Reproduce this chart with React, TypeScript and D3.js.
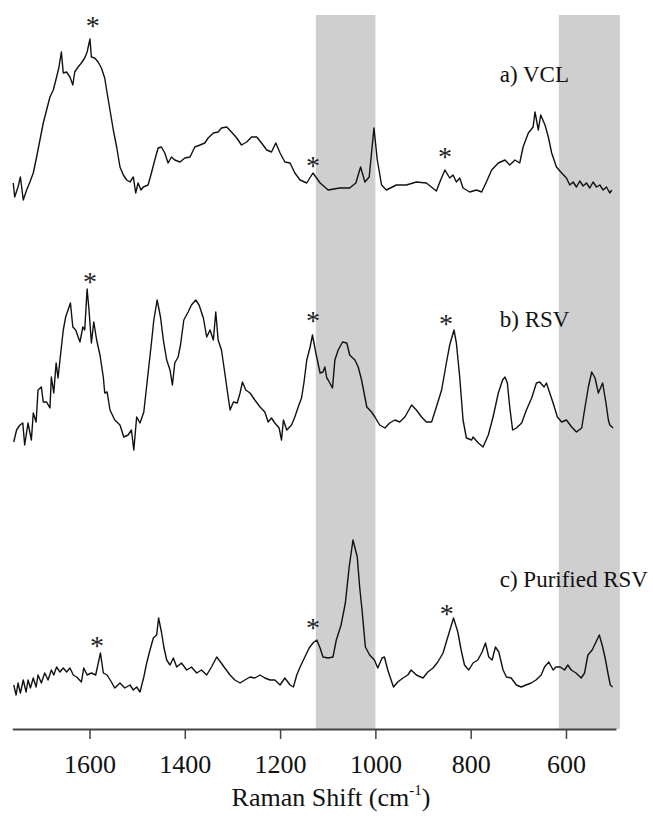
import * as d3 from "d3";
import { useEffect, useRef } from "react";

// Raman spectra: [wavenumber cm-1, intensity (a.u.)]
const vcl: [number, number][] = [
  [1760, 16], [1757, 2], [1750, 12], [1745, 22], [1739, -1], [1732, 9], [1725, 17], [1718, 26],
  [1711, 42], [1704, 59], [1697, 76], [1690, 89], [1683, 102], [1676, 109], [1669, 122], [1664, 132],
  [1659, 147], [1655, 126], [1648, 127], [1641, 122], [1635, 114], [1631, 127], [1624, 132], [1617, 136],
  [1610, 141], [1605, 147], [1599, 160], [1596, 142], [1589, 141], [1582, 137], [1575, 131], [1568, 121],
  [1563, 106], [1557, 89], [1550, 69], [1543, 52], [1536, 32], [1529, 24], [1522, 19], [1515, 17],
  [1508, 22], [1503, 6], [1498, 16], [1492, 9], [1487, 12], [1477, 14], [1470, 26], [1463, 39],
  [1456, 51], [1449, 52], [1442, 46], [1435, 36], [1428, 42], [1421, 39], [1410, 37], [1400, 41],
  [1389, 42], [1379, 52], [1368, 54], [1358, 56], [1351, 61], [1340, 66], [1330, 67], [1323, 71],
  [1312, 72], [1302, 67], [1291, 61], [1281, 54], [1270, 57], [1260, 62], [1249, 62], [1239, 56],
  [1228, 49], [1218, 47], [1209, 56], [1200, 46], [1190, 37], [1179, 36], [1169, 26], [1158, 19],
  [1144, 16], [1131, 26], [1116, 16], [1099, 9], [1075, 11], [1054, 11], [1041, 16], [1031, 32],
  [1022, 17], [1013, 22], [1003, 71], [996, 39], [987, 14], [977, 9], [956, 14], [935, 14],
  [914, 17], [893, 16], [872, 8], [863, 19], [854, 29], [844, 21], [837, 24], [830, 17],
  [823, 21], [816, 11], [802, 7], [788, 9], [777, 7], [767, 17], [756, 29], [742, 36],
  [728, 39], [718, 34], [707, 39], [697, 36], [690, 52], [679, 66], [669, 72], [665, 87],
  [658, 69], [653, 84], [644, 74], [637, 62], [630, 46], [620, 32], [609, 26], [599, 21],
  [592, 14], [585, 17], [578, 12], [571, 18], [564, 13], [557, 16], [550, 11], [543, 17],
  [536, 12], [529, 14], [522, 9], [515, 12], [508, 6], [504, 9],
];

const rsv: [number, number][] = [
  [1759, 7], [1753, 19], [1746, 24], [1740, 26], [1736, 4], [1729, 26], [1722, 9], [1718, 36],
  [1712, 27], [1708, 59], [1701, 62], [1697, 47], [1690, 47], [1683, 41], [1680, 72], [1675, 56],
  [1670, 86], [1666, 71], [1659, 102], [1655, 119], [1650, 132], [1645, 139], [1640, 146], [1635, 122],
  [1629, 119], [1620, 107], [1614, 122], [1610, 119], [1605, 160], [1601, 139], [1596, 106], [1591, 127],
  [1585, 109], [1578, 94], [1571, 72], [1568, 56], [1563, 57], [1557, 39], [1547, 29], [1536, 24],
  [1528, 12], [1519, 14], [1512, 19], [1507, -1], [1501, 32], [1494, 26], [1486, 37], [1477, 76],
  [1470, 106], [1465, 129], [1458, 149], [1451, 132], [1445, 109], [1438, 89], [1431, 79], [1426, 64],
  [1421, 86], [1414, 92], [1409, 104], [1402, 129], [1393, 137], [1386, 144], [1377, 149], [1370, 144],
  [1361, 131], [1354, 112], [1347, 119], [1340, 109], [1335, 137], [1330, 109], [1323, 99], [1316, 76],
  [1311, 59], [1305, 39], [1298, 47], [1290, 46], [1284, 56], [1279, 67], [1272, 59], [1263, 56],
  [1253, 49], [1242, 42], [1232, 37], [1225, 27], [1218, 31], [1211, 26], [1202, 21], [1197, 9],
  [1193, 29], [1186, 19], [1176, 24], [1169, 32], [1162, 42], [1155, 51], [1150, 66], [1144, 89],
  [1137, 102], [1132, 114], [1125, 96], [1116, 76], [1110, 77], [1106, 82], [1102, 71], [1099, 69],
  [1090, 61], [1085, 89], [1078, 99], [1069, 107], [1060, 106], [1054, 94], [1043, 89], [1036, 82],
  [1029, 69], [1018, 42], [1008, 37], [1001, 32], [991, 24], [980, 21], [970, 26], [959, 29],
  [949, 27], [938, 32], [924, 44], [914, 39], [903, 32], [893, 27], [882, 27], [872, 42],
  [861, 59], [851, 86], [844, 104], [835, 119], [830, 106], [823, 72], [816, 29], [809, 11],
  [798, 9], [795, 12], [784, 6], [774, 2], [763, 14], [753, 32], [742, 56], [733, 69],
  [728, 72], [723, 66], [718, 42], [712, 19], [704, 21], [693, 26], [683, 39], [672, 51],
  [662, 66], [655, 67], [646, 62], [641, 66], [634, 56], [627, 46], [618, 32], [609, 27],
  [599, 29], [588, 22], [578, 17], [567, 21], [560, 42], [553, 62], [546, 77], [539, 71],
  [532, 56], [523, 66], [516, 46], [511, 29], [508, 24], [501, 21],
];

const purified: [number, number][] = [
  [1759, 14], [1754, 4], [1750, 16], [1745, 6], [1739, 19], [1733, 7], [1729, 19], [1724, 11],
  [1718, 21], [1712, 12], [1708, 24], [1701, 16], [1694, 26], [1687, 19], [1680, 29], [1675, 24],
  [1669, 32], [1662, 27], [1655, 31], [1648, 27], [1641, 31], [1634, 24], [1627, 22], [1617, 17],
  [1612, 31], [1605, 24], [1596, 26], [1587, 24], [1577, 46], [1571, 26], [1563, 24], [1554, 17],
  [1547, 11], [1536, 16], [1526, 11], [1515, 14], [1508, 9], [1501, 12], [1494, 7], [1486, 22],
  [1480, 36], [1473, 49], [1466, 61], [1459, 64], [1455, 81], [1449, 67], [1444, 52], [1438, 39],
  [1431, 34], [1424, 41], [1417, 32], [1407, 36], [1396, 29], [1386, 32], [1375, 26], [1365, 29],
  [1354, 24], [1344, 32], [1333, 42], [1325, 37], [1316, 31], [1305, 24], [1295, 19], [1284, 16],
  [1274, 19], [1263, 22], [1253, 21], [1242, 24], [1232, 21], [1221, 19], [1211, 19], [1200, 14],
  [1190, 21], [1179, 14], [1172, 12], [1165, 24], [1158, 32], [1148, 42], [1139, 51], [1131, 56],
  [1123, 59], [1116, 51], [1110, 42], [1099, 41], [1089, 42], [1082, 59], [1072, 74], [1063, 96],
  [1055, 132], [1047, 159], [1038, 142], [1033, 112], [1028, 89], [1021, 52], [1012, 44], [1002, 39],
  [995, 31], [986, 41], [981, 42], [974, 29], [967, 19], [962, 12], [953, 17], [942, 21],
  [932, 24], [925, 29], [914, 24], [900, 21], [890, 27], [879, 31], [869, 37], [858, 46],
  [848, 62], [836, 81], [827, 67], [820, 49], [813, 34], [804, 29], [795, 36], [785, 39],
  [776, 47], [769, 56], [762, 42], [755, 39], [748, 52], [741, 47], [732, 29], [725, 22],
  [715, 21], [704, 14], [694, 12], [684, 14], [673, 16], [663, 19], [652, 24], [645, 32],
  [636, 37], [627, 29], [621, 32], [612, 32], [603, 29], [596, 34], [589, 29], [579, 26],
  [568, 21], [561, 26], [554, 44], [545, 49], [537, 57], [530, 64], [523, 52], [517, 39],
  [512, 26], [507, 14], [502, 12],
];

// asterisk marks [wavenumber, intensity level]
const starsVcl: [number, number][] = [[1593, 177], [1131, 37], [854, 46]];
const starsRsv: [number, number][] = [[1599, 171], [1131, 132], [852, 129]];
const starsPurified: [number, number][] = [[1584, 57], [1131, 75], [850, 89]];

const labels = ["a) VCL", "b) RSV", "c) Purified RSV"];
const labelLevels = [117, 122, 112];
const bands: [number, number][] = [[1125, 1000], [615, 487]];
const xTicks = [1600, 1400, 1200, 1000, 800, 600];

export default function App() {
  const ref = useRef<SVGSVGElement | null>(null);
  const width = 653;
  const height = 819;
  const axisY = 729;
  const font = "Liberation Serif, Times New Roman, serif";

  useEffect(() => {
    const svg = d3.select(ref.current);
    svg.selectAll("*").remove();

    const x = d3.scaleLinear().domain([1762, 495]).range([12.3, 616]);
    const y = d3.scaleLinear().domain([0, 714]).range([axisY, 15]);

    svg
      .append("g")
      .selectAll("rect")
      .data(bands)
      .join("rect")
      .attr("x", (d) => x(d[0]))
      .attr("width", (d) => x(d[1]) - x(d[0]))
      .attr("y", y(714))
      .attr("height", y(0) - y(714))
      .attr("fill", "#cfcfcf");

    const series = [
      { data: vcl, stars: starsVcl, offset: 530 },
      { data: rsv, stars: starsRsv, offset: 280 },
      { data: purified, stars: starsPurified, offset: 30 },
    ];

    series.forEach((s, i) => {
      const line = d3
        .line<[number, number]>()
        .x((d) => x(d[0]))
        .y((d) => y(d[1] + s.offset));
      svg
        .append("path")
        .datum(s.data)
        .attr("d", line)
        .attr("fill", "none")
        .attr("stroke", "#111")
        .attr("stroke-width", 1.4)
        .attr("stroke-linejoin", "round");

      svg
        .append("g")
        .selectAll("text")
        .data(s.stars)
        .join("text")
        .attr("x", (d) => x(d[0]))
        .attr("y", (d) => y(d[1] + s.offset) + 13)
        .attr("text-anchor", "middle")
        .style("font-family", font)
        .style("font-size", "28px")
        .attr("fill", "#222")
        .text("*");

      svg
        .append("text")
        .attr("x", x(739))
        .attr("y", y(labelLevels[i] + s.offset))
        .style("font-family", font)
        .style("font-size", "23px")
        .attr("fill", "#111")
        .text(labels[i]);
    });

    const axis = svg
      .append("g")
      .attr("transform", `translate(0,${axisY})`)
      .call(
        d3
          .axisBottom(x)
          .tickValues(xTicks)
          .tickFormat(d3.format("d"))
          .tickSizeInner(10)
          .tickSizeOuter(0)
      );
    axis.select(".domain").attr("stroke", "#444").attr("stroke-width", 2);
    axis.selectAll(".tick line").attr("stroke", "#444").attr("stroke-width", 1.5);
    axis
      .selectAll(".tick text")
      .attr("dy", null)
      .attr("y", 44)
      .style("font-family", font)
      .style("font-size", "26px")
      .attr("fill", "#111");

    const title = svg
      .append("text")
      .attr("x", 331)
      .attr("y", 806)
      .attr("text-anchor", "middle")
      .style("font-family", font)
      .style("font-size", "26px")
      .attr("fill", "#111");
    title.append("tspan").text("Raman Shift (cm");
    title.append("tspan").style("font-size", "15px").attr("dy", -11).text("-1");
    title.append("tspan").attr("dy", 11).text(")");
  }, []);

  return (
    <svg
      ref={ref}
      width={width}
      height={height}
      style={{ position: "absolute", left: 0, top: 0, background: "#fff" }}
    />
  );
}
